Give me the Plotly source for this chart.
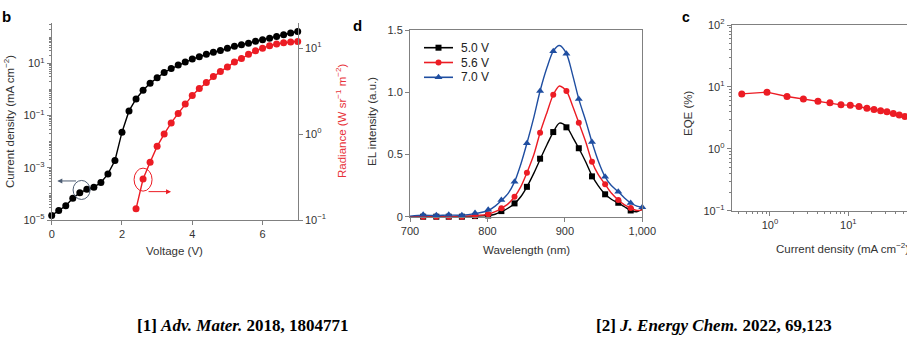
import plotly.graph_objects as go

W, H = 907, 340

# ---------------- Panel b data (J-V-R) ----------------
voltage = [0.0, 0.2, 0.4, 0.6, 0.8, 1.0, 1.2, 1.4, 1.6, 1.8, 2.0, 2.2, 2.4, 2.6, 2.8, 3.0, 3.2, 3.4,
           3.6, 3.8, 4.0, 4.2, 4.4, 4.6, 4.8, 5.0, 5.2, 5.4, 5.6, 5.8, 6.0, 6.2, 6.4, 6.6, 6.8, 7.0]
current_density = [1.5e-5, 2.3e-5, 3.5e-5, 6.8e-5, 1.1e-4, 1.5e-4, 1.8e-4, 2.7e-4, 5.8e-4, 1.9e-3,
                   2.3e-2, 0.15, 0.43, 0.93, 1.7, 2.8, 4.4, 6.3, 8.5, 11.2, 14.5, 17.8, 21.9, 26.3,
                   30.9, 37.2, 44.7, 51.3, 58.9, 69.2, 79.4, 91.2, 107, 123, 145, 165]
rad_voltage = [2.4, 2.6, 2.8, 3.0, 3.2, 3.4, 3.6, 3.8, 4.0, 4.2, 4.4, 4.6, 4.8, 5.0, 5.2, 5.4,
               5.6, 5.8, 6.0, 6.2, 6.4, 6.6, 6.8, 7.0]
radiance = [0.135, 0.30, 0.47, 0.72, 1.0, 1.35, 1.74, 2.24, 2.82, 3.39, 3.98, 4.68, 5.37, 6.03,
            6.92, 7.59, 8.51, 9.33, 10.0, 10.7, 11.2, 11.6, 11.8, 12.0]

# ---------------- Panel d data (EL spectra) ----------------
wl_markers = [717, 734, 750, 767, 784, 801, 818, 835, 851, 868, 885, 902, 918, 935, 952, 969, 985]
el_50_markers = [0.0, 0.0, 0.0, 0.0, 0.005, 0.01, 0.045, 0.107, 0.24, 0.466, 0.68, 0.718, 0.55,
                 0.324, 0.18, 0.112, 0.05]
el_56_markers = [0.0, 0.0, 0.0, 0.0, 0.008, 0.02, 0.067, 0.16, 0.354, 0.675, 0.98, 1.01, 0.755,
                 0.442, 0.26, 0.134, 0.07]
wl_markers_70 = [717, 734, 750, 767, 784, 801, 818, 835, 851, 868, 885, 902, 918, 935, 952, 969, 985, 1000]
el_70_markers = [0.015, 0.012, 0.015, 0.012, 0.03, 0.055, 0.134, 0.28, 0.59, 1.01, 1.33, 1.31,
                 0.945, 0.60, 0.32, 0.20, 0.11, 0.075]

wl_curve = [700, 717, 734, 750, 767, 784, 801, 810, 818, 827, 835, 843, 851, 860, 868, 877, 885,
            893, 902, 910, 918, 927, 935, 943, 952, 960, 969, 977, 985, 993, 1000]
el_50_curve = [0.0, 0.0, 0.0, 0.0, 0.002, 0.004, 0.01, 0.02, 0.04, 0.07, 0.105, 0.16, 0.24, 0.35,
               0.46, 0.58, 0.68, 0.752, 0.725, 0.64, 0.55, 0.44, 0.33, 0.25, 0.18, 0.14, 0.11,
               0.08, 0.05, 0.04, 0.06]
el_56_curve = [0.0, 0.0, 0.0, 0.002, 0.003, 0.008, 0.02, 0.04, 0.067, 0.105, 0.16, 0.24, 0.354,
               0.50, 0.675, 0.84, 0.98, 1.05, 1.01, 0.89, 0.755, 0.60, 0.442, 0.34, 0.26, 0.19,
               0.134, 0.095, 0.07, 0.05, 0.055]
el_70_curve = [0.005, 0.012, 0.01, 0.013, 0.012, 0.025, 0.05, 0.085, 0.13, 0.19, 0.28, 0.42, 0.59,
               0.80, 1.01, 1.20, 1.33, 1.375, 1.31, 1.14, 0.945, 0.77, 0.60, 0.45, 0.32, 0.25,
               0.20, 0.15, 0.11, 0.085, 0.075]
series_names = ["5.0 V", "5.6 V", "7.0 V"]

# ---------------- Panel c data (EQE) ----------------
eqe_current = [0.436, 0.916, 1.65, 2.67, 4.10, 5.83, 8.07, 10.6, 13.7, 17.3, 21.3, 25.9, 31.2,
               37.6, 44.8, 53.0]
eqe = [7.71, 8.22, 7.0, 6.4, 5.87, 5.52, 5.13, 5.07, 4.83, 4.53, 4.32, 4.10, 3.95, 3.72, 3.53, 3.33]

# ---------------- styling ----------------
BLACK = "#000000"
RED = "#ec1c24"
BLUE = "#1f4ea1"
AXC = "#808080"
TXT = "#333333"
FONT = "Liberation Sans, Arial, sans-serif"
TITLE_SIZE = 11.5

def px_x(p):
    return p / W

def px_y(p):
    return 1 - p / H

# plot-area pixel boxes
B_BOX = (51.7, 297.7, 23.3, 220.0)   # left, right, top, bottom
D_BOX = (410.0, 642.3, 30.0, 216.7)
C_BOX = (731.7, 907.0, 25.0, 210.7)

B_X = [0, 7]
B_YL = [-5, 2.53]
B_YR = [-1, 1.29]

def sup(e):
    s = str(e).replace("-", "\u2212")
    return "10<sup>%s</sup>" % s

def minor_log(kmin, kmax, extra=()):
    vals = []
    for k in range(kmin, kmax + 1):
        for m in range(2, 10):
            vals.append(m * 10 ** k)
    for k in extra:
        vals.append(10 ** k)
    return vals

fig = go.Figure()

# Panel b traces
fig.add_trace(go.Scatter(x=voltage, y=current_density, mode="lines+markers",
                         line=dict(color=BLACK, width=1.4),
                         marker=dict(color=BLACK, size=7), xaxis="x", yaxis="y",
                         showlegend=False, cliponaxis=False))
fig.add_trace(go.Scatter(x=rad_voltage, y=radiance, mode="lines+markers",
                         line=dict(color=RED, width=1.4),
                         marker=dict(color=RED, size=7), xaxis="x", yaxis="y2",
                         showlegend=False, cliponaxis=False))

# Panel d traces
curves = [el_50_curve, el_56_curve, el_70_curve]
mk_x = [wl_markers, wl_markers, wl_markers_70]
mk_y = [el_50_markers, el_56_markers, el_70_markers]
colors = [BLACK, RED, BLUE]
symbols = ["square", "circle", "triangle-up"]
msizes = [6, 6, 7]
for cv, mx, my, col, sym, ms in zip(curves, mk_x, mk_y, colors, symbols, msizes):
    fig.add_trace(go.Scatter(x=wl_curve, y=cv, mode="lines",
                             line=dict(color=col, width=1.4, shape="spline", smoothing=0.8),
                             xaxis="x3", yaxis="y3", showlegend=False, cliponaxis=True))
    fig.add_trace(go.Scatter(x=mx, y=my, mode="markers",
                             marker=dict(color=col, size=ms, symbol=sym),
                             xaxis="x3", yaxis="y3", showlegend=False, cliponaxis=False))

# manual legend (aux axis in pixel units)
LEG = dict(x0=420, x1=470, y0=40, y1=85)
leg_rows = [47.7, 62.5, 77.3]
for name, col, sym, ms, yy in zip(series_names, colors, symbols, msizes, leg_rows):
    fig.add_trace(go.Scatter(x=[424, 453], y=[yy, yy], mode="lines",
                             line=dict(color=col, width=1.6), xaxis="x5", yaxis="y5",
                             showlegend=False, hoverinfo="skip"))
    fig.add_trace(go.Scatter(x=[438.5], y=[yy], mode="markers",
                             marker=dict(color=col, size=ms, symbol=sym), xaxis="x5", yaxis="y5",
                             showlegend=False, hoverinfo="skip", cliponaxis=False))

# Panel c traces
fig.add_trace(go.Scatter(x=eqe_current, y=eqe, mode="lines+markers",
                         line=dict(color=RED, width=1.4),
                         marker=dict(color=RED, size=7), xaxis="x4", yaxis="y4",
                         showlegend=False, cliponaxis=True))

tickfont = dict(family=FONT, size=11, color=TXT)
axbase = dict(showgrid=False, zeroline=False, showline=True, linecolor=AXC, linewidth=1,
              ticks="outside", ticklen=4, tickcolor=AXC, tickwidth=1, tickfont=tickfont,
              automargin=False)

layout = dict(
    width=W, height=H, margin=dict(l=0, r=0, t=0, b=0, pad=0, autoexpand=False),
    paper_bgcolor="white", plot_bgcolor="rgba(0,0,0,0)",
    font=dict(family=FONT, color=TXT),
    showlegend=False,
    xaxis=dict(axbase, domain=[px_x(B_BOX[0]), px_x(B_BOX[1])], range=B_X, anchor="y",
               tickvals=[0, 2, 4, 6]),
    yaxis=dict(axbase, domain=[px_y(B_BOX[3]), px_y(B_BOX[2])], type="log", range=B_YL,
               anchor="x", tickvals=[1e-5, 1e-3, 1e-1, 1e1],
               ticktext=[sup(-5), sup(-3), sup(-1), sup(1)],
               minor=dict(ticks="outside", ticklen=2, tickcolor=AXC,
                          tickvals=minor_log(-5, 2, extra=(-4, -2, 0, 2)), showgrid=False)),
    yaxis2=dict(axbase, overlaying="y", side="right", anchor="x", type="log", range=B_YR,
                tickvals=[0.1, 1, 10], ticktext=[sup(-1), sup(0), sup(1)]),
    xaxis3=dict(axbase, domain=[px_x(D_BOX[0]), px_x(D_BOX[1])], range=[700, 1000], anchor="y3",
                tickvals=[700, 800, 900, 1000], ticktext=["700", "800", "900", "1,000"],
                mirror=True),
    yaxis3=dict(axbase, domain=[px_y(D_BOX[3]), px_y(D_BOX[2])], range=[0, 1.5], anchor="x3",
                tickvals=[0, 0.5, 1.0, 1.5], ticktext=["0", "0.5", "1.0", "1.5"], mirror=True),
    xaxis4=dict(axbase, domain=[px_x(C_BOX[0]), 1.0], type="log", range=[-0.489, 1.75],
                anchor="y4", tickvals=[1, 10], ticktext=[sup(0), sup(1)], mirror=True,
                minor=dict(ticks="outside", ticklen=2, tickcolor=AXC,
                           tickvals=minor_log(-1, 1), showgrid=False)),
    yaxis4=dict(axbase, domain=[px_y(C_BOX[3]), px_y(C_BOX[2])], type="log", range=[-1, 2],
                anchor="x4", tickvals=[0.1, 1, 10, 100],
                ticktext=[sup(-1), sup(0), sup(1), sup(2)],
                minor=dict(ticks="outside", ticklen=2, tickcolor=AXC,
                           tickvals=minor_log(-1, 1), showgrid=False)),
    xaxis5=dict(domain=[px_x(LEG["x0"]), px_x(LEG["x1"])], range=[LEG["x0"], LEG["x1"]],
                visible=False, anchor="y5", fixedrange=True),
    yaxis5=dict(domain=[px_y(LEG["y1"]), px_y(LEG["y0"])], range=[LEG["y1"], LEG["y0"]],
                visible=False, anchor="x5", fixedrange=True),
)
fig.update_layout(**layout)

# ---------- data -> pixel helpers for panel b decorations ----------
def b_px_x(v):
    return B_BOX[0] + (v - B_X[0]) / (B_X[1] - B_X[0]) * (B_BOX[1] - B_BOX[0])

def b_px_yl(logv):
    return B_BOX[3] - (logv - B_YL[0]) / (B_YL[1] - B_YL[0]) * (B_BOX[3] - B_BOX[2])

def b_px_yr(logv):
    return B_BOX[3] - (logv - B_YR[0]) / (B_YR[1] - B_YR[0]) * (B_BOX[3] - B_BOX[2])

shapes = []
# black ellipse around J curve
cx, cy = b_px_x(0.85), b_px_yl(-3.85)
shapes.append(dict(type="circle", xref="paper", yref="paper",
                   x0=px_x(cx - 8.5), x1=px_x(cx + 8.5), y0=px_y(cy + 9.5), y1=px_y(cy - 9.5),
                   line=dict(color="#4d5d73", width=1)))
# red ellipse around radiance curve
rx, ry = b_px_x(2.6), b_px_yr(-0.53)
shapes.append(dict(type="circle", xref="paper", yref="paper",
                   x0=px_x(rx - 9), x1=px_x(rx + 9), y0=px_y(ry + 11.5), y1=px_y(ry - 11.5),
                   line=dict(color=RED, width=1)))
fig.update_layout(shapes=shapes)

ann = []
# arrows (head position in paper, tail offset in pixels)
head_x = b_px_x(0.16)
ann.append(dict(x=px_x(head_x), y=px_y(cy - 9), xref="paper", yref="paper",
                ax=(cx - 4) - head_x, ay=0, axref="pixel", ayref="pixel",
                text="", showarrow=True, arrowhead=2, arrowsize=1, arrowwidth=1,
                arrowcolor="#4d5d73"))
ann.append(dict(x=px_x(rx + 28), y=px_y(ry + 12), xref="paper", yref="paper",
                ax=-24, ay=0, axref="pixel", ayref="pixel",
                text="", showarrow=True, arrowhead=2, arrowsize=1, arrowwidth=1,
                arrowcolor=RED))

def text_ann(txt, x, y, size=TITLE_SIZE, color=TXT, angle=0, xanchor="center", bold=False,
             family=FONT):
    return dict(text=("<b>%s</b>" % txt) if bold else txt, x=px_x(x), y=px_y(y),
                xref="paper", yref="paper", showarrow=False, textangle=angle,
                xanchor=xanchor, yanchor="middle",
                font=dict(family=family, size=size, color=color))

# panel labels
ann.append(text_ann("b", 6, 16, size=15, color="#000", bold=True))
ann.append(text_ann("d", 357, 26, size=15, color="#000", bold=True))
ann.append(text_ann("c", 686, 17, size=14, color="#000", bold=True))
# axis titles
ann.append(text_ann("Current density (mA cm<sup>\u22122</sup>)", 9, 122, angle=-90))
ann.append(text_ann("Voltage (V)", 174, 251))
ann.append(text_ann("Radiance (W sr<sup>\u22121</sup> m<sup>\u22122</sup>)", 341, 121, angle=-90,
                    color="#e8323a"))
ann.append(text_ann("EL intensity (a.u.)", 372, 122, angle=-90))
ann.append(text_ann("Wavelength (nm)", 526, 250))
ann.append(text_ann("EQE (%)", 688, 113, angle=-90))
ann.append(text_ann("Current density (mA cm<sup>\u22122</sup>)", 774, 248, xanchor="left"))
# legend labels
for name, yy in zip(series_names, leg_rows):
    ann.append(text_ann(name, 459, yy, size=12, xanchor="left", color="#222"))
# references
SERIF = "Liberation Serif, Times New Roman, serif"
ann.append(text_ann("[1] <i>Adv. Mater.</i> 2018, 1804771", 242.5, 325, size=17, color="#000",
                    bold=True, family=SERIF))
ann.append(text_ann("[2] <i>J. Energy Chem.</i> 2022, 69,123", 713.5, 325, size=17, color="#000",
                    bold=True, family=SERIF))
fig.update_layout(annotations=ann)

fig.write_html("out.html")
